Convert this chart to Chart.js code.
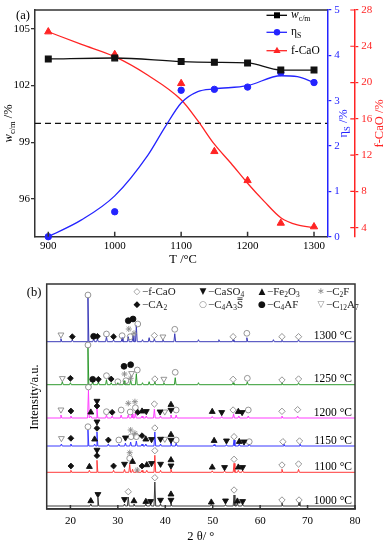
<!DOCTYPE html>
<html>
<head>
<meta charset="utf-8">
<script src="https://cdn.jsdelivr.net/npm/chart.js@4.4.1/dist/chart.umd.min.js"></script>
<style>
  html, body { margin: 0; padding: 0; background: #fff; }
  #wrap { position: relative; width: 388px; height: 550px; }
  #top { position: absolute; left: 0; top: 0; }
  #bot { position: absolute; left: 0; top: 268px; }
</style>
</head>
<body>
<div id="wrap">
  <canvas id="top" width="388" height="268"></canvas>
  <canvas id="bot" width="388" height="282"></canvas>
</div>
<script>
// ---- panel (a) data ----
const temps = [900, 1000, 1100, 1150, 1200, 1250, 1300];
const wcm = [103.41, 103.46, 103.27, 103.23, 103.2, 102.82, 102.82];
const etaS = [0.0, 0.55, 3.23, 3.25, 3.3, 3.62, 3.4];
const fCaO = [25.6, 23.1, 19.9, 12.4, 9.2, 4.5, 4.1];
// fitted curves
const etaFitT = [900, 950, 1000, 1050, 1075, 1100, 1125, 1150, 1200, 1250, 1275, 1300];
const etaFit = [0.0, 0.37, 0.9, 1.8, 2.4, 2.95, 3.2, 3.26, 3.33, 3.55, 3.53, 3.4];
const caoFitT = [900, 950, 1000, 1050, 1100, 1125, 1150, 1175, 1200, 1225, 1250, 1275, 1300];
const caoFit = [25.6, 24.2, 22.85, 20.8, 18.1, 15.8, 13.2, 11.1, 8.9, 6.9, 5.1, 4.3, 4.0];
const wRef = 100;
const tTicks = [900, 1000, 1100, 1200, 1300];
const wTicks = [96, 99, 102, 105];
const etaTicks = [0, 1, 2, 3, 4, 5];
const caoTicks = [4, 8, 12, 16, 20, 24, 28];

// ---- panel (b) data ----
const xrdLabels = ['1300 °C', '1250 °C', '1200 °C', '1150 °C', '1100 °C', '1000 °C'];
const xrdOffsets = [167.3, 124.3, 91, 63, 36.7, 3];
const peaks1300 = [[18.0,3],[20.4,2],[23.7,44],[24.9,3],[25.7,3],[27.6,5],[29.1,2],[30.9,4],[32.2,5],[33.2,6],[33.9,16],[35.2,2],[36.6,4],[37.7,3],[39.5,2],[42.0,8],[47.0,2],[51.3,2],[54.3,2],[57.2,4],[62.8,2],[64.6,1.5],[68.1,2]];
const peaks1250 = [[18.3,3],[20.0,2],[23.7,37],[24.7,3],[25.9,3],[27.6,5],[28.6,2],[30.0,2],[31.3,4],[32.7,5],[33.9,11],[35.2,2],[36.6,3],[37.8,3],[39.7,2],[42.1,7],[47.0,2],[54.3,2],[57.3,3],[64.6,2],[68.1,2]];
const peaks1200 = [[18.0,3],[20.1,2],[23.8,28],[24.3,2],[25.6,9],[27.6,3],[28.8,2],[30.7,3],[32.2,3],[33.0,4],[33.7,5],[35.1,2],[36.0,2],[37.7,9],[39.0,2],[41.2,3],[42.3,3],[49.9,1.5],[51.9,1.5],[54.4,4],[55.5,2],[57.5,2],[64.6,2],[67.9,2]];
const peaks1150 = [[18.1,2],[20.1,2],[23.7,16],[25.1,2],[25.6,14],[28.0,2],[30.2,2],[31.6,3],[32.7,4],[33.9,5],[35.1,2],[35.9,2],[37.8,14],[39.0,2],[41.2,4],[42.3,3],[50.3,1.5],[52.9,1.5],[54.5,6],[55.6,2],[57.7,2],[65.0,2],[68.4,2]];
const peaks1100 = [[20.1,2],[24.0,2],[25.6,12],[29.1,2],[31.4,3],[32.5,8],[33.1,3],[34.1,2],[35.1,2],[36.1,2],[37.8,17],[39.0,2],[41.2,3],[49.9,1.5],[52.5,1.5],[54.5,9],[55.4,2],[56.3,2],[64.6,3],[68.1,3]];
const peaks1000 = [[24.3,2],[25.8,8],[31.4,2],[32.2,9],[33.4,2],[35.9,2],[36.9,2],[37.8,24],[39.0,2],[41.2,3],[49.7,1.5],[52.7,1.5],[54.5,11],[55.2,3],[56.3,2],[64.6,3],[68.2,4]];
const xrdPeaks = [peaks1300, peaks1250, peaks1200, peaks1150, peaks1100, peaks1000];
const xTicksB = [20, 30, 40, 50, 60, 70, 80];

// phase marks [2θ, intensity]
const mkFCaO = [[37.7,173.5],[54.3,172.3],[64.6,172.3],[68.1,172.3],[37.8,130],[54.3,129.7],[64.6,129],[68.1,130],[37.7,105],[54.3,99],[64.6,97.7],[67.9,99.3],[37.8,81],[54.5,72.3],[64.8,67.3],[68.3,68],[37.8,58.3],[54.5,49.7],[64.6,44],[68.1,45],[32.2,17.3],[37.8,31.3],[54.5,19],[64.6,9],[68.2,9]];
const mkCaSO4 = [[25.6,108],[36.0,97.7],[38.9,97.3],[41.2,99],[51.9,96.7],[56.2,96.7],[25.6,87.3],[31.6,71.3],[37.1,69.7],[39.0,70],[41.2,69],[52.9,68.3],[56.6,67.3],[25.6,59],[31.4,45],[37.1,45.7],[39.0,45],[41.2,43.3],[52.5,41.7],[56.3,41.7],[25.8,14.7],[31.4,9.7],[36.9,7.7],[39.0,9],[41.2,9],[52.7,8.3],[56.3,7.7]];
const mkFe2O3 = [[24.3,96.7],[35.1,97.7],[41.2,104.3],[49.9,97.3],[55.4,97.3],[25.1,69.7],[35.9,69.7],[41.2,74.3],[50.3,68.3],[55.6,67.3],[24.0,42.3],[33.1,47.3],[36.1,44],[41.2,49],[49.9,41.7],[55.4,41.7],[24.3,8],[33.4,8],[35.9,7.3],[41.2,14.7],[49.7,6.7],[55.2,7.7]];
const mkC2F = [[32.3,180],[33.4,175.7],[31.4,135],[32.7,130.7],[32.2,105.7],[33.6,107.3],[32.7,79],[33.6,75.7],[32.5,56.3],[34.1,39]];
const mkCA2 = [[20.4,172.3],[25.7,172.7],[29.1,172.3],[20.0,130.7],[25.9,129.7],[28.6,130],[20.1,98],[25.6,103],[28.8,96.7],[34.2,96.7],[20.1,70.7],[25.6,80.7],[28.0,69],[35.1,73.3],[20.1,43],[25.6,53.3],[29.1,43],[35.1,43]];
const mkC4A3S = [[23.7,214],[27.6,175],[30.9,173.3],[32.6,172.3],[34.2,185],[42.0,179.7],[57.2,175.7],[23.7,164],[27.6,133.3],[30.0,127.3],[31.7,128.3],[34.1,139],[42.1,136.7],[57.3,130.7],[23.8,122],[27.6,97.3],[30.7,99],[32.6,97],[33.7,101.3],[42.3,99],[57.5,99],[23.7,82.3],[30.2,69],[32.8,72.3],[33.9,72.3],[42.3,69],[57.7,67.3],[32.5,50.7]];
const mkC4AF = [[24.9,172.7],[32.2,188.3],[33.2,190],[24.7,129.7],[31.3,142.7],[32.7,144.3]];
const mkC12A7 = [[18.0,174.3],[39.5,172.3],[18.3,130.7],[32.9,135.7],[39.7,130],[18.0,99.3],[39.9,97.3],[18.1,70.7],[39.9,70]];

const SERIF = '"Liberation Serif","Times New Roman",serif';
const SYM = '"DejaVu Sans",sans-serif';
const BLUE = '#2424ff', RED = '#ff2424', AXIS = '#333';
Chart.defaults.font.family = SERIF;
Chart.defaults.color = '#000';

function xy(xs, ys) { return xs.map((x, i) => ({x, y: ys[i]})); }
function pts(arr) { return arr.map(p => ({x: p[0], y: p[1]})); }
const plain = v => String(v);

// draw a row of text pieces: [text, kind]; kind: '' | 'i' italic | 's' sub | 'o' overlined
function drawSegs(ctx, segs, x, y, size, align, color) {
  const font = (k) => (k === 'i' ? 'italic ' : '') + (k === 's' ? size * 0.68 : size) + 'px ' + SERIF;
  let w = 0;
  for (const [t, k] of segs) { ctx.font = font(k); w += ctx.measureText(t).width; }
  let cx = align === 'center' ? x - w / 2 : align === 'right' ? x - w : x;
  ctx.fillStyle = color; ctx.strokeStyle = color;
  ctx.textAlign = 'left'; ctx.textBaseline = 'middle';
  for (const [t, k] of segs) {
    ctx.font = font(k);
    const tw = ctx.measureText(t).width;
    ctx.fillText(t, cx, y + (k === 's' ? size * 0.3 : 0));
    if (k === 'o') {
      ctx.lineWidth = 0.8;
      ctx.beginPath();
      ctx.moveTo(cx + 0.5, y - size * 0.5); ctx.lineTo(cx + tw - 0.5, y - size * 0.5);
      ctx.moveTo(cx + 0.5, y - size * 0.65); ctx.lineTo(cx + tw - 0.5, y - size * 0.65);
      ctx.stroke();
    }
    cx += tw;
  }
}
function drawRot(ctx, segs, x, y, size, color) {
  ctx.save(); ctx.translate(x, y); ctx.rotate(-Math.PI / 2);
  drawSegs(ctx, segs, 0, 0, size, 'center', color);
  ctx.restore();
}
function shape(ctx, kind, x, y, col) {
  ctx.fillStyle = col;
  ctx.beginPath();
  if (kind === 'rect') ctx.rect(x - 3, y - 3, 6, 6);
  else if (kind === 'circle') ctx.arc(x, y, 3.2, 0, Math.PI * 2);
  else { ctx.moveTo(x, y - 4); ctx.lineTo(x + 3.6, y + 2.3); ctx.lineTo(x - 3.6, y + 2.3); ctx.closePath(); }
  ctx.fill();
}

const topDeco = {
  id: 'topDeco',
  afterDraw(chart) {
    const {ctx, chartArea: a, scales} = chart;
    ctx.save();
    ctx.strokeStyle = AXIS; ctx.lineWidth = 1.5;
    ctx.beginPath(); ctx.moveTo(a.left, a.top); ctx.lineTo(a.right, a.top);
    for (const v of tTicks) {
      const x = scales.x.getPixelForValue(v);
      ctx.moveTo(x, a.bottom); ctx.lineTo(x, a.bottom - 5);
    }
    ctx.stroke();
    ctx.strokeStyle = RED; ctx.lineWidth = 1.2;
    ctx.beginPath();
    for (const v of caoTicks) {
      const y = scales.y2.getPixelForValue(v);
      ctx.moveTo(scales.y2.left - 4, y); ctx.lineTo(scales.y2.left, y);
    }
    ctx.stroke();
    // titles
    drawSegs(ctx, [['(a)', '']], 23, 16, 12.5, 'center', '#000');
    drawSegs(ctx, [['T /°C', '']], (a.left + a.right) / 2 + 2, 260, 12.5, 'center', '#000');
    const cy = (a.top + a.bottom) / 2;
    drawRot(ctx, [['w', 'i'], ['c/m', 's'], [' /%', '']], 9, cy, 12.5, '#000');
    drawRot(ctx, [['η', ''], ['S', 's'], [' /%', '']], 344, cy, 12.5, BLUE);
    drawRot(ctx, [['f-CaO /%', '']], 380, cy, 12.5, RED);
    // legend
    const rows = [
      {y: 15.3, c: '#000', k: 'rect', segs: [['w', 'i'], ['c/m', 's']]},
      {y: 32.3, c: BLUE, k: 'circle', segs: [['η', ''], ['S', 's']]},
      {y: 50.7, c: RED, k: 'tri', segs: [['f-CaO', '']]}
    ];
    for (const r of rows) {
      ctx.strokeStyle = r.c; ctx.lineWidth = 1.3;
      ctx.beginPath(); ctx.moveTo(266.5, r.y); ctx.lineTo(287, r.y); ctx.stroke();
      shape(ctx, r.k, 277, r.y, r.c);
      drawSegs(ctx, r.segs, 291, r.y, 11.5, 'left', '#000');
    }
    ctx.restore();
  }
};

const ticksFrom = (arr) => (s) => { s.ticks = arr.map(v => ({value: v})); };

new Chart(document.getElementById('top'), {
  type: 'line',
  data: {
    datasets: [
      {data: xy(temps, wcm), yAxisID: 'y', borderColor: '#111', backgroundColor: '#111', borderWidth: 1.3,
       pointStyle: 'rect', pointRadius: 4, cubicInterpolationMode: 'monotone', clip: false},
      {data: xy(temps, etaS), yAxisID: 'y1', showLine: false, backgroundColor: BLUE, borderColor: BLUE,
       pointStyle: 'circle', pointRadius: 3.2, clip: false},
      {data: xy(temps, fCaO), yAxisID: 'y2', showLine: false, backgroundColor: RED, borderColor: RED,
       pointStyle: 'triangle', pointRadius: 4.2, clip: false},
      {data: xy(etaFitT, etaFit), yAxisID: 'y1', borderColor: BLUE, borderWidth: 1.3, pointRadius: 0,
       cubicInterpolationMode: 'monotone'},
      {data: xy(caoFitT, caoFit), yAxisID: 'y2', borderColor: RED, borderWidth: 1.3, pointRadius: 0,
       cubicInterpolationMode: 'monotone'},
      {data: [{x: 880, y: wRef}, {x: 1320, y: wRef}], yAxisID: 'y', borderColor: '#111', borderWidth: 1.3,
       borderDash: [6, 4], pointRadius: 0}
    ]
  },
  options: {
    responsive: false, animation: false,
    layout: {padding: {left: 0, right: 0, top: 10, bottom: 0}},
    plugins: {legend: {display: false}, tooltip: {enabled: false}},
    scales: {
      x: {type: 'linear', min: 880, max: 1320, afterBuildTicks: ticksFrom(tTicks),
          afterFit: s => { s.height = 31.3; },
          grid: {display: false, drawTicks: false}, border: {color: AXIS, width: 1.5},
          ticks: {font: {size: 11}, padding: 3, color: '#000', callback: plain}},
      y: {position: 'left', min: 94, max: 106, afterBuildTicks: ticksFrom(wTicks),
          afterFit: s => { s.width = 35; },
          grid: {drawOnChartArea: false, tickLength: 4, color: AXIS, lineWidth: 1.3},
          border: {color: AXIS, width: 1.5},
          ticks: {font: {size: 11}, padding: 1, color: '#000', callback: plain}},
      y1: {position: 'right', weight: 0, min: 0, max: 5, afterBuildTicks: ticksFrom(etaTicks),
           afterFit: s => { s.width = 27; },
           grid: {drawOnChartArea: false, tickLength: 4, color: BLUE, lineWidth: 1.2},
           border: {color: BLUE, width: 1.5},
           ticks: {font: {size: 11}, padding: 3, color: BLUE, callback: plain}},
      y2: {position: 'right', weight: 1, min: 3, max: 28, afterBuildTicks: ticksFrom(caoTicks),
           afterFit: s => { s.width = 33.7; },
           grid: {drawOnChartArea: false, tickLength: 4, color: RED, lineWidth: 1.2},
           border: {color: RED, width: 1.5},
           ticks: {font: {size: 11}, padding: 3, color: RED, callback: plain}}
    }
  },
  plugins: [topDeco]
});

// ---- panel (b) ----
const HOLLOW = '#8a8a8a', SOLID = '#111';
const traceColors = ['#3a3ab8', '#2f9a2f', '#ff3cff', '#3838ff', '#ff3a3a', '#3a3a3a'];

function traceData(base, peaks) {
  const out = [{x: 15, y: base}];
  for (const [p, h] of peaks) {
    out.push({x: p - 0.18, y: base}, {x: p, y: base + h}, {x: p + 0.18, y: base});
  }
  out.push({x: 80, y: base});
  return out;
}

const markSets = [
  {d: mkFCaO, s: 'rectRot', r: 3.2, fill: 'rgba(0,0,0,0)', line: HOLLOW},
  {d: mkCaSO4, s: 'triangle', r: 3.4, rot: 180, fill: SOLID, line: SOLID},
  {d: mkFe2O3, s: 'triangle', r: 3.4, fill: SOLID, line: SOLID},
  {d: mkC2F, s: 'star', r: 3.0, fill: HOLLOW, line: HOLLOW},
  {d: mkCA2, s: 'rectRot', r: 2.9, fill: SOLID, line: SOLID},
  {d: mkC4A3S, s: 'circle', r: 2.9, fill: 'rgba(0,0,0,0)', line: HOLLOW},
  {d: mkC4AF, s: 'circle', r: 2.9, fill: SOLID, line: SOLID},
  {d: mkC12A7, s: 'triangle', r: 3.4, rot: 180, fill: 'rgba(0,0,0,0)', line: HOLLOW}
];

const datasetsB = [];
for (const m of markSets) {
  datasetsB.push({data: pts(m.d), showLine: false, pointStyle: m.s, pointRadius: m.r,
    pointRotation: m.rot || 0, pointBackgroundColor: m.fill, pointBorderColor: m.line,
    pointBorderWidth: 0.9, order: 0, clip: false});
}
xrdPeaks.forEach((pk, i) => {
  datasetsB.push({data: traceData(xrdOffsets[i], pk), borderColor: traceColors[i], borderWidth: 1,
    pointRadius: 0, order: 1});
});

const botDeco = {
  id: 'botDeco',
  afterDraw(chart) {
    const {ctx, chartArea: a, scales} = chart;
    ctx.save();
    ctx.strokeStyle = AXIS; ctx.lineWidth = 1.5;
    ctx.strokeRect(a.left, a.top, a.right - a.left, a.bottom - a.top);
    ctx.beginPath();
    for (const v of xTicksB) {
      const x = scales.x.getPixelForValue(v);
      ctx.moveTo(x, a.bottom); ctx.lineTo(x, a.bottom - 4);
    }
    ctx.stroke();
    xrdLabels.forEach((t, i) => {
      const y = scales.y.getPixelForValue(xrdOffsets[i]) - 5.5;
      drawSegs(ctx, [[t, '']], 352, y, 11.5, 'right', '#000');
    });
    drawSegs(ctx, [['(b)', '']], 34, 25, 12.5, 'center', '#000');
    drawSegs(ctx, [['2 θ/ °', '']], (a.left + a.right) / 2, 269, 12.5, 'center', '#000');
    drawRot(ctx, [['Intensity/a.u.', '']], 35, 129, 12.5, '#000');
    // phase legend
    const leg = [
      {x: 137, y: 24, g: '◇', c: HOLLOW, segs: [['−f-CaO', '']]},
      {x: 203, y: 24, g: '▼', c: SOLID, segs: [['−CaSO', ''], ['4', 's']]},
      {x: 262, y: 24, g: '▲', c: SOLID, segs: [['−Fe', ''], ['2', 's'], ['O', ''], ['3', 's']]},
      {x: 321, y: 24, g: '∗', c: HOLLOW, segs: [['−C', ''], ['2', 's'], ['F', '']]},
      {x: 137, y: 37, g: '◆', c: SOLID, segs: [['−CA', ''], ['2', 's']]},
      {x: 203, y: 37, g: '○', c: HOLLOW, segs: [['−C', ''], ['4', 's'], ['A', ''], ['3', 's'], ['S', 'o']]},
      {x: 262, y: 37, g: '●', c: SOLID, segs: [['−C', ''], ['4', 's'], ['AF', '']]},
      {x: 321, y: 37, g: '▽', c: HOLLOW, segs: [['−C', ''], ['12', 's'], ['A', ''], ['7', 's']]}
    ];
    for (const l of leg) {
      ctx.font = '9px ' + SYM; ctx.fillStyle = l.c;
      ctx.textAlign = 'center'; ctx.textBaseline = 'middle';
      ctx.fillText(l.g, l.x, l.y);
      drawSegs(ctx, l.segs, l.x + 5, l.y, 11, 'left', '#222');
    }
    ctx.restore();
  }
};

new Chart(document.getElementById('bot'), {
  type: 'line',
  data: {datasets: datasetsB},
  options: {
    responsive: false, animation: false,
    layout: {padding: {left: 46.7, right: 33, top: 16, bottom: 0}},
    plugins: {legend: {display: false}, tooltip: {enabled: false}},
    scales: {
      x: {type: 'linear', min: 15, max: 80, afterBuildTicks: ticksFrom(xTicksB),
          afterFit: s => { s.height = 41; },
          grid: {display: false, drawTicks: false}, border: {color: AXIS, width: 1.5},
          ticks: {font: {size: 11}, padding: 6, color: '#000', callback: plain}},
      y: {display: false, min: 0, max: 225}
    }
  },
  plugins: [botDeco]
});
</script>
</body>
</html>
